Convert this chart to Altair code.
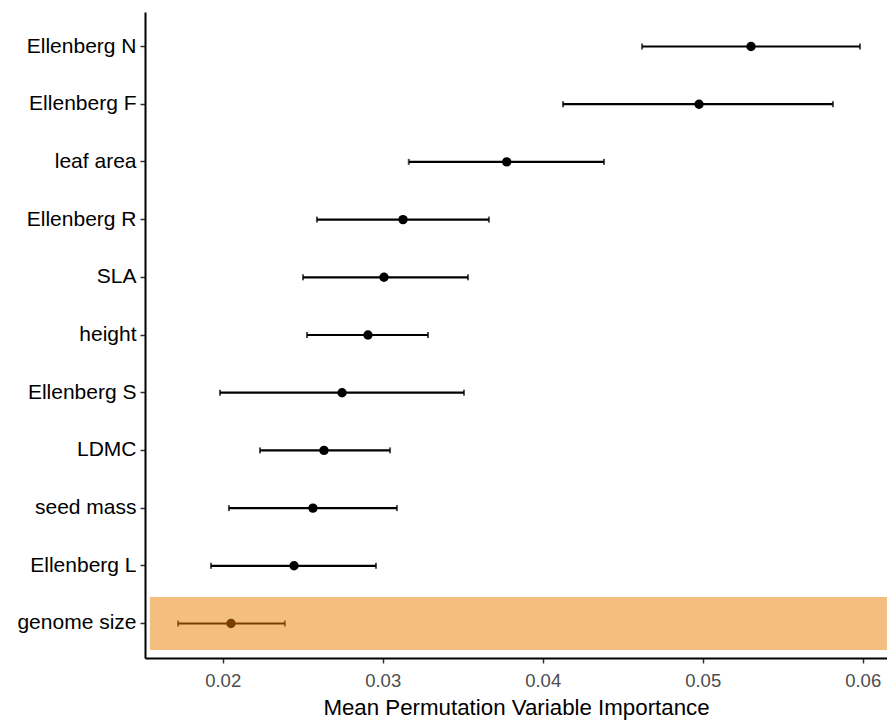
import altair as alt
import pandas as pd

categories = ["Ellenberg N", "Ellenberg F", "leaf area", "Ellenberg R", "SLA", "height",
              "Ellenberg S", "LDMC", "seed mass", "Ellenberg L", "genome size"]
mean_vals = [0.05302, 0.04977, 0.03775, 0.03127, 0.03008, 0.02908,
             0.02746, 0.02633, 0.02564, 0.02446, 0.02052]
lower_vals = [0.04621, 0.04127, 0.03163, 0.02589, 0.02502, 0.02527,
              0.01983, 0.02233, 0.02039, 0.01927, 0.01721]
upper_vals = [0.05983, 0.05814, 0.04383, 0.03664, 0.03533, 0.03283,
              0.03508, 0.03046, 0.03089, 0.02958, 0.02389]
highlighted = ["genome size"]
highlight_start = [0.01545]
highlight_end = [0.06152]
x_ticks = [0.02, 0.03, 0.04, 0.05, 0.06]
x_domain = [0.015144, 0.061519]

df = pd.DataFrame({
    "var": categories,
    "mean": mean_vals,
    "lo": lower_vals,
    "hi": upper_vals,
})
df["col"] = ["#7A3E02" if v in highlighted else "#000000" for v in categories]

hl = pd.DataFrame({"var": highlighted, "x0": highlight_start, "x1": highlight_end})

yscale = alt.Scale(domain=categories, paddingInner=0.08, paddingOuter=0.138)
xscale = alt.Scale(domain=x_domain, nice=False, zero=False)

y_enc = alt.Y("var:N", scale=yscale, sort=categories, title=None,
              axis=alt.Axis(labelFont="Liberation Sans", labelFontSize=21, labelColor="#000000",
                            labelPadding=4, tickSize=5, tickColor="#333333", tickWidth=1.5,
                            domainColor="#000000", domainWidth=2, labelLimit=300))

x_axis = alt.Axis(values=x_ticks, format=".2f", labelFont="Liberation Sans",
                  labelFontSize=18.5, labelColor="#4D4D4D", labelBaseline="alphabetic",
                  labelPadding=23, labelFlush=False, tickSize=5, tickColor="#333333",
                  tickWidth=1.5, domainColor="#000000", domainWidth=2, grid=False,
                  title="Mean Permutation Variable Importance", titleFont="Liberation Sans",
                  titleFontSize=22.3, titleFontWeight="normal", titleColor="#000000",
                  titleBaseline="alphabetic", titleY=56)

rect = alt.Chart(hl).mark_bar(color="#F3BE80", clip=True).encode(
    y=alt.Y("var:N", scale=yscale, sort=categories, title=None),
    x=alt.X("x0:Q", scale=xscale, axis=x_axis),
    x2="x1:Q",
)

rules = alt.Chart(df).mark_rule(strokeWidth=2.2).encode(
    y=y_enc,
    x=alt.X("lo:Q", scale=xscale),
    x2="hi:Q",
    color=alt.Color("col:N", scale=None),
)

caps_lo = alt.Chart(df).mark_tick(size=6, thickness=2).encode(
    y=alt.Y("var:N", scale=yscale, sort=categories),
    x=alt.X("lo:Q", scale=xscale),
    color=alt.Color("col:N", scale=None),
)
caps_hi = alt.Chart(df).mark_tick(size=6, thickness=2).encode(
    y=alt.Y("var:N", scale=yscale, sort=categories),
    x=alt.X("hi:Q", scale=xscale),
    color=alt.Color("col:N", scale=None),
)

points = alt.Chart(df).mark_circle(size=88, opacity=1).encode(
    y=alt.Y("var:N", scale=yscale, sort=categories),
    x=alt.X("mean:Q", scale=xscale),
    color=alt.Color("col:N", scale=None),
)

chart = alt.layer(rect, rules, caps_lo, caps_hi, points).properties(
    width=742, height=646,
    autosize=alt.AutoSizeParams(type="none"),
    padding={"left": 145, "top": 12, "right": 0, "bottom": 62},
    background="#FFFFFF",
).configure_view(stroke=None)

chart.save("out.html", embed_options={"renderer": "svg", "actions": False})
